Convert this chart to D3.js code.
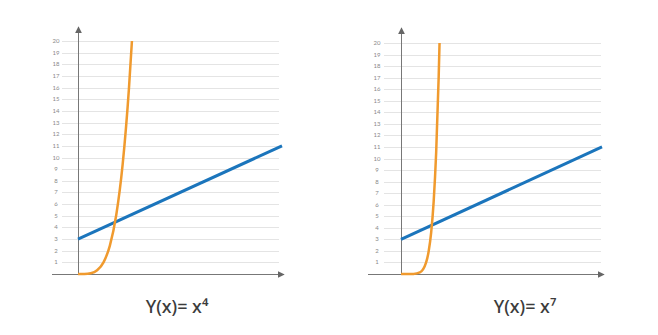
<!DOCTYPE html>
<html>
<head>
<meta charset="utf-8">
<script src="https://cdn.jsdelivr.net/npm/d3@7"></script>
<style>
  body { margin: 0; background: #fff; }
  svg { display: block; }
</style>
</head>
<body>
<svg id="chart" width="658" height="335"></svg>
<script>
// y axis tick values
const yTicks = d3.range(1, 21);

// straight line y = x + 3
const lineX = [0, 8];
const lineY = [3, 11];

// y = x^4
const quartX = [0, 0.25, 0.5, 0.75, 1, 1.25, 1.5, 1.75, 2, 2.115];
const quartY = [0, 0.004, 0.0625, 0.316, 1, 2.44, 5.06, 9.38, 16, 20];

// y = x^7
const sevX = [0, 0.25, 0.5, 0.75, 1, 1.1, 1.2, 1.3, 1.4, 1.5, 1.534];
const sevY = [0, 0, 0.008, 0.133, 1, 1.95, 3.58, 6.27, 10.54, 17.09, 20];

const titles = ["Y(x)= x\u2074", "Y(x)= x\u2077"];

const svg = d3.select("#chart");

// arrow heads
const defs = svg.append("defs");
defs.append("marker")
    .attr("id", "arrow")
    .attr("viewBox", "0 0 10 10")
    .attr("refX", 9)
    .attr("refY", 5)
    .attr("markerWidth", 7)
    .attr("markerHeight", 7)
    .attr("markerUnits", "userSpaceOnUse")
    .attr("orient", "auto")
    .append("path")
    .attr("d", "M0,0L10,5L0,10Z")
    .attr("fill", "#666");

const panels = [
    { ox: 78, right: 282, top: 41, arrowTop: 27, axisStart: 52, gridStart: 62, gridEnd: 279, labelX: 56,
      xs: quartX, ys: quartY, title: titles[0], titleX: 177 },
    { ox: 401, right: 602, top: 43, arrowTop: 28, axisStart: 368, gridStart: 384, gridEnd: 601, labelX: 377,
      xs: sevX, ys: sevY, title: titles[1], titleX: 525 }
];

const bottom = 274;

panels.forEach(function(p) {
    const x = d3.scaleLinear().domain([0, 8]).range([p.ox, p.right]);
    const y = d3.scaleLinear().domain([0, 20]).range([bottom, p.top]);

    // grid lines
    svg.append("g")
        .selectAll("line")
        .data(yTicks)
        .enter().append("line")
        .attr("x1", p.gridStart)
        .attr("x2", p.gridEnd)
        .attr("y1", d => Math.round(y(d)) + 0.5)
        .attr("y2", d => Math.round(y(d)) + 0.5)
        .attr("stroke", "#e4e4e4")
        .attr("stroke-width", 1);

    // tick labels
    svg.append("g")
        .selectAll("text")
        .data(yTicks)
        .enter().append("text")
        .attr("x", p.labelX)
        .attr("y", d => y(d) + 2)
        .attr("text-anchor", "middle")
        .style("font-family", "Lato, 'Open Sans', sans-serif")
        .style("font-size", "6px")
        .attr("fill", "#8a8a8a")
        .text(d => d);

    // axes
    svg.append("line")
        .attr("x1", p.axisStart)
        .attr("x2", p.right + 2)
        .attr("y1", bottom + 0.5)
        .attr("y2", bottom + 0.5)
        .attr("stroke", "#777")
        .attr("stroke-width", 1)
        .attr("marker-end", "url(#arrow)");

    svg.append("line")
        .attr("x1", p.ox + 0.5)
        .attr("x2", p.ox + 0.5)
        .attr("y1", bottom)
        .attr("y2", p.arrowTop)
        .attr("stroke", "#777")
        .attr("stroke-width", 1)
        .attr("marker-end", "url(#arrow)");

    // blue line
    const line = d3.line().x(d => x(d[0])).y(d => y(d[1]));
    svg.append("path")
        .datum(d3.zip(lineX, lineY))
        .attr("d", line)
        .attr("fill", "none")
        .attr("stroke", "#1b75bc")
        .attr("stroke-width", 3);

    // orange curve
    const curve = d3.line().x(d => x(d[0])).y(d => y(d[1])).curve(d3.curveMonotoneX);
    svg.append("path")
        .datum(d3.zip(p.xs, p.ys))
        .attr("d", curve)
        .attr("fill", "none")
        .attr("stroke", "#f09a2e")
        .attr("stroke-width", 2.5);

    // title
    svg.append("text")
        .attr("x", p.titleX)
        .attr("y", 313)
        .attr("text-anchor", "middle")
        .style("font-family", "'Noto Sans', 'Open Sans', sans-serif")
        .style("font-size", "18px")
        .style("font-weight", 500)
        .attr("fill", "#3c3c3c")
        .text(p.title);
});
</script>
</body>
</html>
